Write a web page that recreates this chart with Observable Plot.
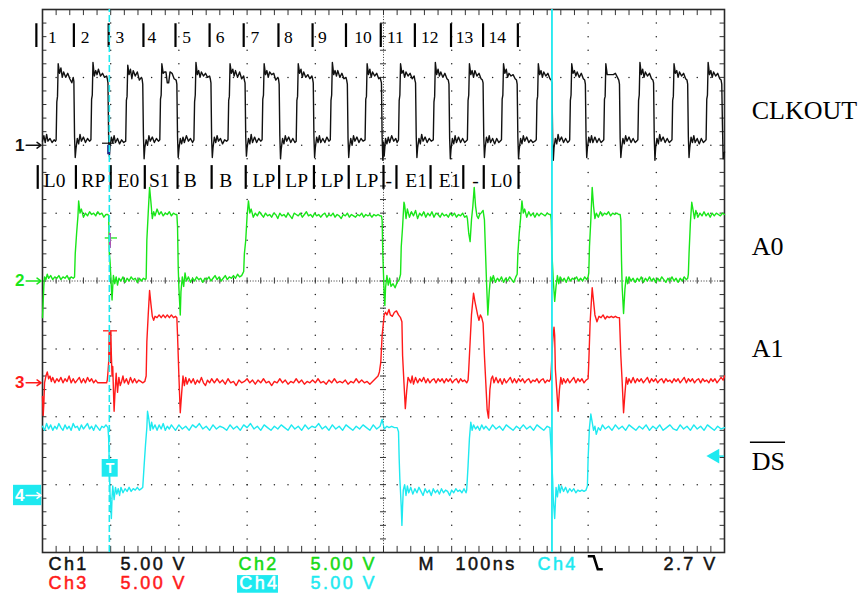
<!DOCTYPE html>
<html><head><meta charset="utf-8">
<script src="https://cdn.jsdelivr.net/npm/d3@7"></script>
<script src="https://cdn.jsdelivr.net/npm/@observablehq/plot@0.6"></script>
<style>html,body{margin:0;padding:0;background:#fff;overflow:hidden;}</style>
</head><body><div id="chart"></div>
<script>
// ---- scope settings ----
const nsPerDiv = 100;
const voltsPerDiv = [5, 5, 5, 5];
const groundDiv = [6, 4, 2.5, 0.88];          // channel ground markers (divisions from bottom)
const channelIds = ["1", "2", "3", "4"];
const signalNames = ["CLKOUT", "A0", "A1", "DS"];
const triggerNs = 747, cursorNs = 98, triggerLevelV = 2.7;

// ---- traces: [time ns, volts] ----
const ch1 = [[0,0.3],[2,0.7],[4,0.2],[6,0.8],[8,0.3],[11,0.5],[14,0.2],[17,0.4],[19,0.3],
[20,0.4],[21,3.2],[22,3.6],[23,6.0],[25,5.3],[27,5.7],[29,5.0],[31,5.4],[34,5.0],[37,5.3],[40,4.9],[43,4.6],[45,5.0],
[46,4.7],[47,0.6],[48,-0.9],[49,-0.3],[51,0.5],[53,0.1],[55,0.8],[57,0.3],[60,0.6],[63,0.2],[66,0.5],[69,0.3],
[71,0.4],[72,3.4],[73,3.7],[74,6.1],[76,5.1],[78,5.5],[80,5.2],[82,5.6],[85,5.1],[88,5.3],[91,5.0],[94,5.1],[95,4.9],
[96,4.6],[97,0.5],[98,-0.8],[99,-0.1],[101,0.6],[103,0.2],[105,0.7],[107,0.2],[110,0.5],[113,0.1],[116,0.4],[119,0.2],
[122,0.3],[123,3.3],[124,3.6],[125,5.9],[127,5.2],[129,5.6],[131,4.9],[133,5.5],[136,5.1],[139,5.4],[142,4.8],[145,5.0],[146,4.9],
[147,4.5],[148,0.7],[149,-1.0],[150,-0.2],[152,0.4],[154,0.0],[156,0.7],[158,0.3],[161,0.6],[164,0.2],[167,0.5],[170,0.3],
[172,0.4],[173,3.4],[174,3.7],[175,6.0],[177,5.3],[179,5.4],[181,5.4],[183,4.6],[185,4.6],[187,5.4],[190,5.3],[193,4.9],[196,4.8],
[197,4.5],[198,0.6],[199,-0.9],[200,-0.3],[202,0.5],[204,0.1],[206,0.6],[208,0.2],[211,0.7],[214,0.3],[217,0.5],[220,0.2],
[222,0.4],[223,3.2],[224,3.7],[225,6.1],[227,5.2],[229,5.5],[231,5.0],[233,5.4],[236,5.1],[239,5.3],[242,5.0],[245,5.1],[246,4.9],
[247,4.6],[248,0.5],[249,-0.9],[250,-0.2],[252,0.6],[254,0.2],[256,0.7],[258,0.3],[261,0.5],[264,0.1],[267,0.4],[270,0.3],
[272,0.4],[273,3.3],[274,3.6],[275,6.0],[277,5.3],[279,5.6],[281,5.1],[283,5.5],[286,5.0],[289,5.4],[292,4.9],[295,5.1],[296,4.8],
[297,4.6],[298,0.6],[299,-0.8],[300,-0.2],[302,0.5],[304,0.1],[306,0.8],[308,0.2],[311,0.6],[314,0.2],[317,0.5],[320,0.3],
[322,0.4],[323,3.4],[324,3.7],[325,6.0],[327,5.2],[329,5.5],[331,5.0],[333,5.4],[336,5.2],[339,5.3],[342,4.8],[345,5.0],[346,4.9],
[347,4.5],[348,0.7],[349,-1.0],[350,-0.3],[352,0.5],[354,0.1],[356,0.7],[358,0.3],[361,0.6],[364,0.2],[367,0.5],[370,0.2],
[372,0.3],[373,3.3],[374,3.6],[375,6.0],[377,5.3],[379,5.6],[381,5.0],[383,5.4],[386,5.0],[389,5.2],[392,4.9],[395,5.1],[396,4.9],
[397,4.6],[398,0.6],[399,-0.9],[400,-0.2],[402,0.6],[404,0.2],[406,0.7],[408,0.2],[411,0.5],[414,0.2],[417,0.6],[420,0.3],
[422,0.4],[423,3.3],[424,3.7],[425,6.1],[427,5.2],[429,5.5],[431,5.1],[433,5.5],[436,5.0],[439,5.3],[442,4.9],[445,5.0],[446,4.8],
[447,4.5],[448,0.5],[449,-0.9],[450,-0.2],[452,0.5],[454,0.0],[456,0.7],[458,0.3],[461,0.6],[464,0.2],[467,0.5],[470,0.3],
[473,0.4],[474,3.4],[475,3.6],[476,6.0],[478,5.2],[480,5.6],[482,5.0],[484,5.4],[487,5.1],[490,5.3],[493,4.9],[495,5.0],[496,4.8],
[497,4.6],[498,0.6],[499,-1.1],[500,0.2],[501,-0.8],[503,0.5],[505,0.1],[507,0.6],[509,0.2],[512,0.7],[515,0.3],[518,0.5],[520,0.2],
[522,0.4],[523,3.3],[524,3.7],[525,6.0],[527,5.3],[529,5.5],[531,5.0],[533,5.4],[536,5.1],[539,5.3],[542,4.9],[545,5.1],[546,4.8],
[547,4.6],[548,0.6],[549,-0.9],[550,-0.2],[552,0.5],[554,0.1],[556,0.8],[558,0.3],[561,0.6],[564,0.2],[567,0.5],[570,0.3],
[573,0.4],[574,3.2],[575,3.6],[576,6.1],[578,5.2],[580,5.6],[582,5.1],[584,5.4],[587,5.0],[590,5.3],[593,4.9],[595,4.8],
[596,4.5],[597,0.5],[598,-1.0],[599,-0.3],[601,0.5],[603,0.1],[605,0.7],[607,0.2],[610,0.6],[613,0.2],[616,0.5],[619,0.2],[621,0.3],
[623,0.4],[624,3.3],[625,3.7],[626,6.0],[628,5.2],[630,5.5],[632,5.0],[634,5.5],[637,5.1],[640,5.3],[643,4.9],[645,4.8],
[646,4.6],[647,0.6],[648,-0.9],[649,-0.2],[651,0.6],[653,0.2],[655,0.7],[657,0.2],[660,0.5],[663,0.1],[666,0.5],[669,0.2],[671,0.3],
[673,0.4],[674,3.4],[675,3.7],[676,6.0],[678,5.3],[680,5.6],[682,5.0],[684,5.3],[687,5.1],[690,5.2],[693,4.9],[695,4.8],
[696,4.5],[697,0.6],[698,-1.0],[699,-0.3],[701,0.5],[703,0.1],[705,0.7],[707,0.3],[710,0.6],[713,0.2],[716,0.4],[719,0.2],[722,0.3],
[724,0.4],[725,3.3],[726,3.6],[727,6.0],[729,5.2],[731,5.5],[733,5.0],[735,5.4],[738,5.1],[741,5.3],[744,4.9],[746,4.8],
[747,4.6],[748,0.5],[749,-1.1],[750,-0.2],[752,0.5],[754,0.1],[756,0.8],[758,0.3],[761,0.6],[764,0.2],[767,0.5],[770,0.2],[772,0.3],
[773,0.4],[774,3.3],[775,3.7],[776,6.0],[778,5.3],[780,5.5],[782,5.1],[784,5.4],[787,5.0],[790,5.3],[793,4.9],[795,4.8],
[796,4.5],[797,0.6],[798,-0.9],[799,-0.2],[801,0.6],[803,0.2],[805,0.7],[807,0.2],[810,0.6],[813,0.2],[816,0.5],[819,0.2],[821,0.3],
[823,0.4],[824,3.4],[825,3.6],[826,6.0],[828,5.2],[830,5.2],[832,5.2],[834,5.2],[837,5.2],[840,5.3],[843,5.0],[845,4.8],
[846,4.5],[847,0.5],[848,-0.9],[849,-0.3],[851,0.5],[853,0.1],[855,0.7],[857,0.3],[860,0.6],[863,0.2],[866,0.5],[869,0.2],[871,0.3],
[873,0.4],[874,3.3],[875,3.7],[876,6.1],[878,5.2],[880,5.6],[882,5.0],[884,5.4],[887,5.1],[890,5.3],[893,4.9],[895,4.8],
[896,4.6],[897,0.6],[898,-1.1],[899,-0.2],[901,0.5],[903,0.1],[905,0.8],[907,0.3],[910,0.6],[913,0.2],[916,0.5],[919,0.2],[921,0.3],
[923,0.4],[924,3.3],[925,3.6],[926,6.0],[928,5.3],[930,5.5],[932,5.0],[934,5.4],[937,5.1],[940,5.3],[943,4.9],[945,4.8],
[946,4.5],[947,0.6],[948,-0.9],[949,-0.2],[951,0.6],[953,0.2],[955,0.7],[957,0.2],[960,0.5],[963,0.1],[966,0.5],[969,0.2],[971,0.3],
[973,0.4],[974,3.4],[975,3.7],[976,6.1],[978,5.2],[980,5.5],[982,5.0],[984,5.4],[987,5.1],[990,5.3],[993,4.9],[995,4.8],
[996,4.5],[997,1.5],[998,-1.0],[1000,-0.5]];

const ch2 = [[0,-2.7],[1,-1.5],[2,-0.3],[3,0.3],[5,0.1],[7,0.5],[9,0.2],[12,0.4],[15,0.1],[18,0.3],[21,0.2],[24,0.4],[27,0.1],[30,0.3],[33,0.2],[36,0.4],[39,0.1],[42,0.3],[45,0.2],
[47,0.3],[48,2.0],[50,3.5],[52,4.8],[53,5.9],[55,5.0],[57,5.3],[60,4.7],[63,5.0],[66,4.8],[69,5.1],[72,4.9],[75,5.0],[78,4.8],[81,5.1],[84,4.9],[87,5.0],[90,4.7],[93,4.9],[96,4.9],
[97,4.8],[98,2.0],[99,1.5],[100,0.5],[101,-0.5],[102,-1.4],[103,-0.4],[104,0.4],[106,-0.2],[108,0.3],[110,-0.3],[112,0.2],[115,0.0],[118,0.3],[121,-0.1],[124,0.2],[127,0.0],[130,0.3],[133,0.1],[136,0.2],[139,-0.1],[142,0.2],[145,0.0],[148,0.2],[151,0.1],
[152,0.2],[153,3.0],[155,5.0],[157,6.9],[159,5.8],[161,4.6],[163,5.1],[165,4.8],[168,5.3],[171,4.9],[174,5.1],[177,4.8],[180,5.0],[183,4.9],[186,5.1],[189,4.8],[192,5.0],[195,4.9],[197,4.9],
[198,4.0],[199,1.0],[200,-0.5],[202,-2.5],[203,-0.8],[205,0.3],[207,-0.4],[209,0.6],[211,0.0],[214,0.3],[217,-0.1],[220,0.2],[223,0.0],[226,0.3],[229,0.1],[232,0.2],[235,-0.1],[238,0.2],[241,0.1],[244,0.3],[247,0.0],[250,0.2],[253,0.4],[256,0.1],[259,0.3],[262,0.0],[265,0.2],[268,0.4],[271,0.1],[274,0.3],[277,0.2],[280,0.4],[283,0.2],[286,0.5],[289,0.3],[292,0.4],[294,0.6],
[295,0.7],[296,2.0],[298,3.0],[300,4.8],[302,5.9],[304,5.0],[306,5.3],[309,4.7],[312,5.0],[315,4.8],[318,5.1],[321,4.9],[324,4.7],[327,5.0],[330,4.8],[333,4.9],[336,4.7],[339,5.0],[342,4.9],[345,4.6],[348,5.0],[351,4.8],[354,4.9],[357,4.7],[360,5.0],[363,4.8],[366,4.6],[369,5.0],[372,4.9],[375,4.8],[378,5.0],[381,4.7],[384,4.9],[387,5.1],[390,4.8],[393,4.9],[396,4.7],[399,5.0],[402,4.8],[405,4.9],[408,4.7],[411,4.9],[414,5.0],[417,4.7],[420,4.9],[423,4.8],[426,5.0],[429,4.7],[432,4.9],[435,4.8],[438,4.6],[441,4.9],[444,4.8],[447,5.0],[450,4.7],[453,4.9],[456,4.8],[459,4.7],[462,4.9],[465,4.8],[468,5.0],[471,4.7],[474,4.9],[477,4.8],[480,4.9],[483,4.7],[486,4.9],[489,4.8],[492,4.9],[495,4.8],[497,4.8],
[498,4.5],[499,2.0],[500,0.5],[501,-1.0],[502,-1.8],[503,-0.5],[505,0.4],[507,-0.3],[509,0.2],[511,-0.4],[514,-0.2],[517,-0.5],[520,-0.1],[523,0.1],
[525,0.5],[526,2.5],[528,4.0],[530,5.8],[531,5.6],[533,4.6],[535,5.3],[538,4.7],[541,5.1],[544,4.8],[547,5.2],[550,4.6],[553,5.0],[556,4.8],[559,5.1],[562,4.7],[565,5.0],[568,4.8],[571,5.1],[574,4.7],[577,5.0],[580,4.9],[583,4.7],[586,5.0],[589,4.8],[592,4.9],[595,4.7],[598,5.0],[601,4.8],[604,5.0],[607,4.7],[610,4.9],[613,4.8],[616,5.0],[619,4.7],[622,4.8],
[623,4.6],[625,3.5],[627,2.9],[629,4.5],[631,5.5],[633,6.9],[635,5.5],[637,4.8],[639,4.6],[641,4.9],[643,5.0],[646,5.2],[648,4.5],
[649,3.0],[651,0.0],[653,-2.5],[655,-0.8],[657,0.3],[659,0.0],[661,0.4],[664,-0.1],[667,0.2],[670,0.0],[673,0.3],[676,-0.1],[679,0.2],[682,0.0],[685,0.3],[688,0.1],[691,-0.1],[694,0.3],
[696,0.5],[697,2.0],[699,3.5],[701,4.6],[703,5.9],[705,5.0],[707,5.3],[710,4.7],[713,5.1],[716,4.8],[719,5.0],[722,4.7],[725,5.0],[728,4.8],[731,5.0],[734,4.9],[737,4.8],[740,5.0],[743,4.9],[745,4.9],
[746,4.5],[747,2.0],[749,0.0],[751,-1.5],[753,-0.4],[755,0.4],[757,-0.2],[759,0.3],[762,0.0],[765,0.2],[768,-0.1],[771,0.3],[774,0.0],[777,0.2],[780,0.1],[783,0.3],[786,0.0],[789,0.2],[792,0.0],[795,0.3],[798,0.1],[800,0.3],
[801,0.6],[802,2.5],[804,4.5],[806,6.9],[808,5.5],[810,4.6],[812,5.0],[815,4.7],[818,5.1],[821,4.8],[824,5.0],[827,4.9],[830,5.1],[833,4.8],[836,5.0],[839,4.9],[842,5.0],[845,4.9],[847,4.9],
[848,4.5],[849,1.5],[850,-0.5],[852,-2.4],[854,-0.6],[856,0.3],[858,-0.2],[860,0.3],[863,0.0],[866,0.2],[869,-0.1],[872,0.2],[875,0.0],[878,0.3],[881,-0.1],[884,0.2],[887,0.0],[890,0.3],[893,0.0],[896,0.2],[899,-0.1],[902,0.2],[905,0.0],[908,0.3],[911,0.1],[914,-0.1],[917,0.2],[920,0.0],[923,0.3],[926,0.0],[929,0.2],[932,-0.1],[935,0.2],[938,0.0],[941,0.3],[944,0.1],[946,0.2],
[947,0.5],[948,2.0],[950,4.3],[952,5.8],[954,5.2],[956,4.6],[958,5.2],[961,4.7],[964,5.0],[967,4.8],[970,5.1],[973,4.8],[976,5.0],[979,4.7],[982,5.0],[985,4.8],[988,5.0],[991,4.9],[994,4.8],[997,5.0],[1000,4.9]];

const ch3 = [[0,-1.0],[1,-2.4],[2,-1.5],[3,0.0],[5,0.5],[7,0.8],[9,0.3],[11,0.5],[13,0.1],[15,0.4],[18,0.0],[21,0.3],[24,0.1],[27,0.4],[30,0.0],[33,0.3],[36,0.1],[39,0.5],[42,0.0],[45,0.3],[48,0.0],[51,0.2],[54,0.4],[57,0.0],[60,0.3],[63,0.0],[66,0.4],[69,0.1],[72,0.3],[75,0.0],[78,0.2],[81,0.0],[85,0.0],[90,0.0],[94,0.0],[95,0.2],
[96,0.8],[97,1.5],[98,3.7],[99,3.0],[100,3.8],[101,2.0],[102,0.5],[103,1.2],[104,-0.5],[105,-2.1],[106,-1.0],[108,0.7],[110,-0.7],[112,0.4],[114,-0.2],[116,0.1],[118,0.5],[120,0.0],[123,0.3],[126,-0.1],[129,0.4],[132,0.0],[135,0.3],[138,0.0],[141,0.2],[144,0.1],[147,0.0],[150,0.1],
[152,0.5],[153,3.0],[155,5.0],[157,6.8],[159,5.8],[161,4.9],[163,4.6],[165,4.9],[168,4.8],[171,5.0],[174,4.8],[177,5.0],[180,4.8],[183,5.0],[186,4.8],[189,5.0],[192,4.8],[195,4.9],[197,4.8],
[198,3.5],[200,0.5],[202,-2.2],[204,-0.8],[206,0.5],[208,-0.2],[210,0.4],[212,-0.1],[215,0.3],[218,0.0],[221,0.3],[224,-0.1],[227,0.2],[230,0.0],[233,0.4],[236,0.0],[239,-0.2],[242,0.2],[245,0.0],[248,0.3],[252,0.0],[256,0.3],[260,0.0],[264,0.2],[268,-0.1],[272,0.3],[276,0.0],[280,0.1],[284,-0.2],[288,0.2],[292,0.0],[296,0.1],[300,0.3],[304,0.0],[308,0.2],[312,-0.1],[316,0.2],[320,0.0],[324,0.3],[328,0.0],[332,0.1],[336,-0.2],[340,0.1],[344,0.0],[348,0.3],[352,0.0],[356,0.2],[360,-0.1],[364,0.1],[368,0.0],[372,0.3],[376,0.0],[380,0.2],[384,-0.1],[388,0.1],[392,0.0],[396,0.2],[400,0.0],[404,0.3],[408,0.0],[412,0.1],[416,-0.1],[420,0.2],[424,0.0],[428,0.3],[432,0.0],[436,0.1],[440,0.0],[444,0.2],[448,-0.1],[452,0.1],[456,0.0],[460,0.3],[464,0.0],[468,0.2],[472,0.0],[476,0.1],[480,-0.1],[484,0.1],[488,0.3],[492,0.5],[494,0.8],
[496,1.5],[497,2.5],[498,3.5],[500,4.5],[501,5.0],[503,5.2],[505,5.0],[508,5.4],[510,5.0],[513,4.9],[516,5.2],[519,5.3],[522,5.0],[525,4.8],[527,4.5],
[528,2.0],[530,0.0],[532,-1.9],[534,-0.6],[536,0.4],[538,0.2],[540,0.0],[542,0.5],[544,-0.1],[547,0.4],[550,0.0],[553,0.3],[556,0.1],[559,0.4],[562,0.0],[565,0.3],[568,0.0],[571,0.2],[574,0.3],[577,0.0],[580,0.3],[583,0.1],[586,0.3],[589,0.0],[592,0.3],[595,0.1],[598,0.3],[601,0.0],[604,0.2],[607,0.3],[610,0.0],[613,0.3],[616,0.1],[619,0.2],[622,0.0],[624,0.2],
[625,1.0],[627,3.0],[629,5.0],[632,6.6],[634,6.0],[636,5.5],[638,5.0],[640,4.6],[642,5.0],[644,4.8],[646,4.4],
[648,2.0],[650,0.0],[652,-2.0],[654,-2.6],[656,-0.5],[658,0.3],[660,0.5],[662,0.0],[665,0.4],[668,0.0],[671,0.3],[674,-0.1],[677,0.3],[680,0.0],[683,0.2],[686,0.4],[689,0.0],[692,0.3],[695,0.0],[698,0.3],[701,0.1],[704,0.3],[707,0.0],[710,0.2],[713,0.3],[716,0.0],[719,0.2],[722,0.1],[725,0.3],[728,0.0],[731,0.2],[734,0.3],[737,0.0],[740,0.2],[743,0.1],[745,0.3],
[746,1.0],[748,3.0],[750,4.1],[751,3.5],[752,1.0],[754,-0.5],[756,-2.1],[758,-0.5],[760,0.4],[762,-0.1],[764,0.3],[767,0.0],[770,0.3],[773,0.0],[776,0.2],[779,0.4],[782,0.0],[785,0.3],[788,0.1],[791,0.3],[794,0.0],[797,0.2],[800,0.3],
[801,1.5],[803,4.5],[806,7.0],[808,6.0],[810,5.0],[813,4.5],[816,4.9],[819,4.8],[822,5.0],[825,4.7],[828,4.9],[831,4.8],[834,4.9],[837,4.8],[840,4.9],[843,4.8],[846,4.8],
[848,2.0],[850,0.0],[852,-2.2],[854,-0.8],[856,0.4],[858,-0.1],[860,0.3],[863,0.0],[866,0.4],[869,0.0],[872,0.3],[875,0.1],[878,0.3],[881,0.0],[884,0.2],[887,0.4],[890,0.0],[893,0.3],[896,0.1],[899,0.3],[902,0.0],[905,0.2],[908,0.3],[911,0.0],[914,0.3],[917,0.1],[920,0.2],[923,0.0],[926,0.3],[929,0.1],[932,0.3],[935,0.0],[938,0.2],[941,0.4],[944,0.0],[947,0.3],[950,0.1],[953,0.3],[956,0.0],[959,0.2],[962,0.3],[965,0.0],[968,0.3],[971,0.1],[974,0.2],[977,0.0],[980,0.3],[983,0.1],[986,0.3],[989,0.0],[992,0.2],[995,0.4],[998,0.2],[1000,0.5]];

const ch4 = [[0,4.9],[3,4.6],[6,5.1],[9,4.7],[12,5.0],[15,4.6],[18,4.9],[21,4.7],[24,5.1],[27,4.8],[30,4.6],[33,5.0],[36,4.7],[39,4.9],[42,4.6],[45,5.1],[48,4.8],[51,4.9],[54,4.6],[57,5.0],[60,4.7],[63,4.9],[66,5.1],[69,4.7],[72,4.9],[75,4.6],[78,5.0],[81,4.8],[84,4.6],[87,4.9],[90,4.8],[93,5.0],[96,4.8],
[97,4.0],[98,2.0],[99,0.0],[100,-1.0],[101,-1.9],[102,-0.3],[103,0.5],[105,-0.5],[107,0.4],[109,-0.1],[111,0.3],[113,-0.2],[115,0.4],[118,0.0],[121,0.3],[124,0.1],[127,0.4],[130,0.1],[133,0.3],[136,0.2],[139,0.4],[142,0.2],[145,0.3],[147,0.4],
[149,2.0],[151,3.5],[153,4.8],[154,6.0],[156,5.4],[158,4.6],[160,5.2],[162,4.7],[165,5.0],[168,4.6],[171,5.0],[174,4.7],[177,5.1],[180,4.6],[183,4.9],[186,4.7],[189,5.0],[192,4.8],
[195,4.6],[200,5.0],[205,4.7],[210,4.9],[215,4.6],[220,5.0],[225,4.8],[230,5.1],[235,4.7],[240,4.9],[245,4.6],[250,5.0],[255,4.7],[260,4.9],[265,4.8],[270,4.6],[275,5.0],[280,4.7],[285,4.9],[290,4.6],[295,5.0],[300,4.8],[305,5.1],[310,4.7],[315,4.9],[320,4.6],[325,5.0],[330,4.8],[335,4.6],[340,4.9],[345,4.7],[350,5.0],[355,4.8],[360,4.6],[365,5.0],[370,4.7],[375,4.9],[380,4.6],[385,5.0],[390,4.7],[395,4.9],[400,4.8],[405,5.1],[410,4.7],[415,4.9],[420,4.6],[425,5.0],[430,4.7],[435,4.9],[440,4.6],[445,5.0],[450,4.8],[455,4.6],[460,4.9],[465,4.7],[470,5.0],[475,4.8],[480,4.6],[485,5.0],[490,4.7],[495,4.9],[498,5.4],[501,4.7],[505,4.9],[508,4.8],[512,4.9],[516,4.8],[520,4.8],
[522,4.5],[523,2.5],[524,1.0],[525,0.0],[526,-1.0],[527,-2.4],[528,-1.0],[529,0.2],[531,0.6],[533,-0.2],[535,0.5],[537,0.0],[540,0.4],[543,-0.1],[546,0.3],[549,0.0],[552,0.4],[555,0.1],[558,-0.2],[561,0.3],[564,0.0],[567,0.2],[570,-0.2],[573,0.3],[576,0.0],[579,0.2],[582,-0.1],[585,0.3],[588,0.0],[591,0.2],[594,0.1],[597,-0.2],[600,0.2],[603,0.0],[606,0.3],[609,0.1],[612,0.2],[615,0.0],[618,0.3],[621,0.0],
[622,0.2],[624,2.0],[626,4.0],[628,5.2],[630,4.6],[632,5.0],[635,4.7],[638,4.9],[641,4.6],[644,5.0],[647,4.7],[650,4.9],[655,4.6],[660,5.0],[665,4.7],[670,4.9],[675,4.6],[680,5.0],[685,4.8],[690,4.6],[695,4.9],[700,4.7],[705,5.0],[710,4.7],[715,4.9],[720,4.6],[725,5.0],[730,4.8],[735,4.6],[740,4.9],[744,4.8],
[746,3.0],[748,1.0],[749,-0.5],[751,-1.9],[752,-0.8],[753,0.4],[755,-0.3],[757,0.6],[759,0.0],[761,0.5],[764,0.1],[767,0.4],[770,0.0],[773,0.3],[776,0.1],[779,0.3],[782,0.0],[785,0.2],[788,0.1],[791,0.2],[794,0.1],[797,0.2],
[799,0.5],[800,2.5],[802,4.8],[804,5.8],[806,5.2],[808,4.6],[810,4.9],[812,4.3],[815,4.8],[818,4.6],[821,5.0],[825,4.7],[830,4.9],[835,4.6],[840,5.0],[845,4.7],[850,4.9],[855,4.6],[860,5.0],[865,4.8],[870,4.6],[875,4.9],[880,4.7],[885,5.0],[890,4.6],[895,4.9],[900,4.7],[905,5.0],[910,4.6],[915,4.8],[920,5.0],[925,4.7],[930,4.6],[935,5.0],[940,4.7],[945,4.9],[950,4.6],[955,5.0],[960,4.7],[965,4.9],[970,4.6],[975,5.0],[980,4.8],[985,4.6],[990,4.9],[995,4.7],[1000,4.8]];

// ---- annotation rows ----
const cycleNames = ["1","2","3","4","5","6","7","8","9","10","11","12","13","14"];
const cycleBarNs = [-9, 46, 97, 148, 195, 245, 295, 346, 396, 445, 496, 546, 599, 646, 697];
const cycleTextNs = [8, 56, 107, 154, 205, 254, 305, 354, 404, 457, 505, 555, 606, 654];
const busNames = ["L0","RP","E0","S1","B","B","LP","LP","LP","LP","-","E1","E1","-","L0"];
const busBarNs = [-7, 49, 100, 150, 198, 248, 298, 347, 398, 449, 500, 519, 569, 617, 647, 698];
const busTextNs = [2, 57, 110, 156, 207, 259, 308, 356, 408, 459, 503, 532, 581, 630, 657];

// ---- readout ----
const readoutText = ["Ch1", "5.00 V", "Ch2", "5.00 V", "M", "100ns", "Ch4", "2.7 V", "Ch3", "5.00 V", "Ch4", "5.00 V"];

// ---------------- drawing ----------------
const GREEN = "#19e619", RED = "#ff1a1a", CYAN = "#1ee9f0", BLACK = "#111";
const colors = [BLACK, GREEN, RED, CYAN];
const yOf = ch => d => groundDiv[ch] + d[1] / voltsPerDiv[ch];

// graticule
const gridDots = [];
for (const t of [100,200,300,400,600,700,800,900]) for (let i = 1; i < 40; i++) gridDots.push([t, i * 0.2]);
for (const y of [1,2,3,5,6,7]) for (let i = 1; i < 50; i++) gridDots.push([i * 20, y]);
const minorY = d3.range(1, 40).map(i => i * 0.2);
const minorX = d3.range(1, 50).map(i => i * 20);

const serif = "Liberation Serif, Times New Roman, serif";
const sans = "Liberation Sans, Arial, sans-serif";
const mono = "Arimo, Liberation Sans, sans-serif";

const readLayout = [
  {t: 8.8, row: 0, c: BLACK}, {t: 114.4, row: 0, c: BLACK}, {t: 287.4, row: 0, c: "#16d916"}, {t: 393, row: 0, c: "#16d916"},
  {t: 551.3, row: 0, c: BLACK}, {t: 605.6, row: 0, c: BLACK}, {t: 725.8, row: 0, c: CYAN}, {t: 910.6, row: 0, c: BLACK},
  {t: 8.8, row: 1, c: RED}, {t: 114.4, row: 1, c: RED}, {t: 288.5, row: 1, c: "#fff"}, {t: 393, row: 1, c: CYAN}
];
const readout = readoutText.map((s, i) => ({s, ...readLayout[i]}));
const rowY = [-0.255, -0.535];

const trigDiv = groundDiv[3] + triggerLevelV / voltsPerDiv[3];
const badgeColors = [BLACK, GREEN, RED, "#fff"];

const chart = Plot.plot({
  width: 866, height: 595,
  marginLeft: 42, marginRight: 142, marginTop: 9, marginBottom: 43,
  x: {domain: [0, 10 * nsPerDiv], axis: null},
  y: {domain: [0, 8], axis: null},
  style: {background: "white", overflow: "visible"},
  marks: [
    // graticule
    Plot.dot(gridDots, {x: d => d[0], y: d => d[1], r: 0.75, fill: "#222", stroke: null}),
    Plot.ruleX([500], {y1: 0, y2: 8, stroke: "#333", strokeDasharray: "1,1.7"}),
    Plot.ruleY([4], {x1: 0, x2: 1000, stroke: "#333", strokeDasharray: "1,1.7"}),
    Plot.ruleY(minorY, {x1: 495.6, x2: 504.4, stroke: "#333"}),
    Plot.ruleX(minorX, {y1: 3.955, y2: 4.045, stroke: "#333"}),
    Plot.ruleX(minorX, {y1: 7.91, y2: 8, stroke: "#333"}),
    Plot.ruleX(minorX, {y1: 0, y2: 0.09, stroke: "#333"}),
    Plot.ruleY(minorY, {x1: 0, x2: 6.5, stroke: "#333"}),
    Plot.ruleY(minorY, {x1: 993.5, x2: 1000, stroke: "#333"}),
    Plot.frame({stroke: "#2a2a2a", strokeWidth: 1.6}),

    // annotation rows
    Plot.ruleX(cycleBarNs, {y1: 7.44, y2: 7.79, stroke: "#000", strokeWidth: 2.2}),
    Plot.text(cycleNames, {x: (d, i) => cycleTextNs[i], y: 7.503, text: d => d, textAnchor: "start", lineAnchor: "bottom", fontFamily: serif, fontSize: 17.5, fill: "#000"}),
    Plot.ruleX(busBarNs, {y1: 5.35, y2: 5.70, stroke: "#000", strokeWidth: 2.2}),
    Plot.text(busNames, {x: (d, i) => busTextNs[i], y: 5.382, text: d => d, textAnchor: "start", lineAnchor: "bottom", fontFamily: serif, fontSize: 19.5, fill: "#000"}),

    // traces
    Plot.line(ch1, {x: d => d[0], y: yOf(0), stroke: colors[0], strokeWidth: 1.4}),
    Plot.line(ch2, {x: d => d[0], y: yOf(1), stroke: colors[1], strokeWidth: 1.4}),
    Plot.line(ch3, {x: d => d[0], y: yOf(2), stroke: colors[2], strokeWidth: 1.4}),
    Plot.line(ch4, {x: d => d[0], y: yOf(3), stroke: colors[3], strokeWidth: 1.4}),

    // cursor markers
    Plot.ruleY([groundDiv[0] + 0.15 / 5], {x1: 88, x2: 106, stroke: BLACK, strokeWidth: 1.2}),
    Plot.ruleX([97], {y1: groundDiv[0] - 0.14, y2: groundDiv[0], stroke: "#1a2a8a", strokeWidth: 3}),
    Plot.ruleY([groundDiv[1] + 3.17 / 5], {x1: 92, x2: 110, stroke: GREEN, strokeWidth: 1.3}),
    Plot.ruleX([99], {y1: groundDiv[1] + 2.4 / 5, y2: groundDiv[1] + 3.5 / 5, stroke: "#b04fb0", strokeWidth: 2}),
    Plot.ruleY([groundDiv[2] + 3.83 / 5], {x1: 89.5, x2: 110, stroke: RED, strokeWidth: 1.3}),
    Plot.ruleX([99], {y1: groundDiv[2] + 1.5 / 5, y2: groundDiv[2] + 3.8 / 5, stroke: RED, strokeWidth: 2.5}),

    // trigger & cursor lines
    Plot.ruleX([cursorNs], {y1: 0, y2: 8, stroke: CYAN, strokeWidth: 1.6, strokeDasharray: "7,3"}),
    Plot.ruleX([triggerNs], {y1: 0, y2: 8, stroke: CYAN, strokeWidth: 1.8}),
    Plot.rect([0], {x1: 87.5, x2: 111, y1: 1.11, y2: 1.37, fill: CYAN}),
    Plot.text(["T"], {x: 99.2, y: 1.24, text: d => d, fill: "#fff", fontFamily: sans, fontWeight: "bold", fontSize: 14}),
    Plot.ruleY([trigDiv], {x1: 985, x2: 1000, stroke: CYAN, strokeWidth: 1.5}),
    Plot.dot([0], {x: 986, y: trigDiv, symbol: "triangle", rotate: -90, r: 5.5, fill: CYAN, stroke: null}),

    // channel ground markers
    Plot.rect([0], {x1: -42.5, x2: -1.2, y1: 0.69, y2: 0.99, fill: CYAN}),
    Plot.text(channelIds, {x: -25, y: (d, i) => groundDiv[i] - (i === 3 ? 0.04 : 0), text: d => d, textAnchor: "end", dx: -1, fontFamily: sans, fontWeight: "bold", fontSize: 17, fill: (d, i) => badgeColors[i]}),
    Plot.arrow(channelIds, {x1: -24, x2: -2, y1: (d, i) => groundDiv[i] - (i === 3 ? 0.04 : 0), y2: (d, i) => groundDiv[i] - (i === 3 ? 0.04 : 0), stroke: (d, i) => badgeColors[i], strokeWidth: 1.5, headLength: 6, headAngle: 70}),

    // signal names
    Plot.text(signalNames, {x: 1040, y: (d, i) => [6.39, 4.376, 2.877, 1.218][i], text: d => d, textAnchor: "start", lineAnchor: "bottom", fontFamily: serif, fontSize: 26, fill: "#000"}),
    Plot.ruleY([1.625], {x1: 1038, x2: 1089.5, stroke: "#000", strokeWidth: 1.6}),

    // readout
    Plot.rect([0], {x1: 286, x2: 346, y1: -0.60, y2: -0.34, fill: CYAN}),
    Plot.text(readout, {x: "t", y: d => rowY[d.row], text: "s", fill: "c", stroke: "c", strokeWidth: 0.5, textAnchor: "start", lineAnchor: "bottom", fontFamily: mono, fontSize: 18})
  ]
});

d3.select(chart).selectAll("g").filter(function () { return this.getAttribute("font-family") === mono; })
  .attr("letter-spacing", "2.4px");

// falling-slope glyph after "Ch4"
const sx = chart.scale("x"), sy = chart.scale("y");
const gx = sx.apply(812), gy = sy.apply(rowY[0]);
d3.select(chart).append("path")
  .attr("d", `M${gx - 8},${gy - 13} H${gx - 2} L${gx + 2},${gy} H${gx + 7}`)
  .attr("fill", "none").attr("stroke", "#000").attr("stroke-width", 2.6);

document.getElementById("chart").appendChild(chart);
</script>
</body></html>
